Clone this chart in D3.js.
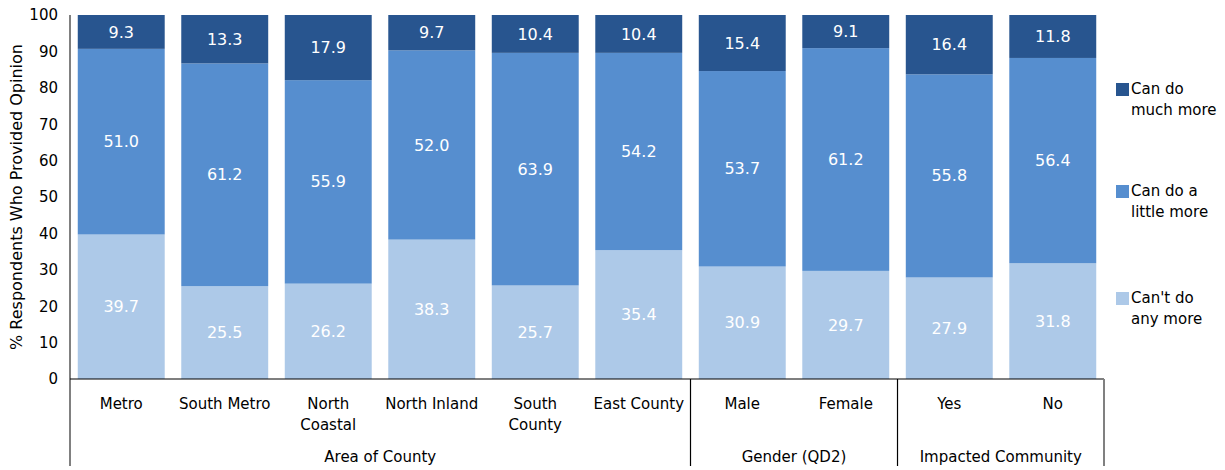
<!DOCTYPE html>
<html>
<head>
<meta charset="utf-8">
<script src="https://cdn.jsdelivr.net/npm/d3@7"></script>
<style>
body { margin: 0; background: #fff; }
svg text { font-family: "DejaVu Sans", sans-serif; }
</style>
</head>
<body>
<div id="chart"></div>
<script>
var categories = [
	['Metro'], ['South Metro'], ['North', 'Coastal'], ['North Inland'], ['South', 'County'],
	['East County'], ['Male'], ['Female'], ['Yes'], ['No']
];
var groups = [
	{ name: 'Area of County', from: 0, to: 5 },
	{ name: 'Gender (QD2)', from: 6, to: 7 },
	{ name: 'Impacted Community', from: 8, to: 9 }
];
var cantDo = [39.7, 25.5, 26.2, 38.3, 25.7, 35.4, 30.9, 29.7, 27.9, 31.8];
var littleMore = [51.0, 61.2, 55.9, 52.0, 63.9, 54.2, 53.7, 61.2, 55.8, 56.4];
var muchMore = [9.3, 13.3, 17.9, 9.7, 10.4, 10.4, 15.4, 9.1, 16.4, 11.8];
var yTicks = [0, 10, 20, 30, 40, 50, 60, 70, 80, 90, 100];

var series = [
	{ name: ['Can\'t do', 'any more'], values: cantDo, color: '#adc9e8' },
	{ name: ['Can do a', 'little more'], values: littleMore, color: '#568ecf' },
	{ name: ['Can do', 'much more'], values: muchMore, color: '#28558f' }
];

var chart = {
	width: 1225, height: 470,
	left: 70, right: 1104, top: 15, bottom: 379
};

var svg = d3.select('#chart').append('svg')
	.attr('width', chart.width)
	.attr('height', chart.height);

var x = d3.scaleBand()
	.domain(d3.range(categories.length))
	.range([chart.left, chart.right])
	.paddingInner(0.16)
	.paddingOuter(0.075);

var y = d3.scaleLinear()
	.domain([0, 100])
	.range([chart.bottom, chart.top]);

// stacked bars
series.forEach(function(s, si) {
	var g = svg.append('g');
	categories.forEach(function(c, i) {
		var base = 0;
		for(var k = 0; k < si; k++) base += series[k].values[i];
		var v = s.values[i];
		var y0 = y(base), y1 = y(Math.min(base + v, 100));
		g.append('rect')
			.attr('x', x(i))
			.attr('width', x.bandwidth())
			.attr('y', y1)
			.attr('height', y0 - y1)
			.attr('fill', s.color);
		g.append('text')
			.attr('x', x(i) + x.bandwidth()/2)
			.attr('y', (y0 + y1)/2)
			.attr('dy', '0.35em')
			.attr('text-anchor', 'middle')
			.attr('fill', '#fff')
			.style('font-size', '16px')
			.text(v.toFixed(1));
	});
});

// y axis
var yAxis = svg.append('g')
	.attr('transform', 'translate(' + chart.left + ',0)')
	.call(d3.axisLeft(y).tickValues(yTicks).tickSize(0).tickPadding(12));
yAxis.select('.domain').remove();
yAxis.selectAll('text')
	.style('font-size', '15px')
	.style('font-family', '"DejaVu Sans", sans-serif')
	.attr('fill', '#000');

svg.append('line')
	.attr('x1', chart.left).attr('x2', chart.left)
	.attr('y1', chart.top).attr('y2', 466)
	.attr('stroke', '#808080').attr('stroke-width', 2);

svg.append('line')
	.attr('x1', chart.left).attr('x2', chart.right)
	.attr('y1', chart.bottom).attr('y2', chart.bottom)
	.attr('stroke', '#000').attr('stroke-width', 1.2);

svg.append('text')
	.attr('transform', 'translate(22,' + ((chart.top + chart.bottom)/2) + ') rotate(-90)')
	.attr('text-anchor', 'middle')
	.style('font-size', '16px')
	.text('% Respondents Who Provided Opinion');

// category labels
categories.forEach(function(c, i) {
	var cx = x(i) + x.bandwidth()/2;
	var t = svg.append('text')
		.attr('x', cx)
		.attr('y', 409)
		.attr('text-anchor', 'middle')
		.style('font-size', '15px');
	c.forEach(function(line, li) {
		t.append('tspan')
			.attr('x', cx)
			.attr('dy', li == 0 ? 0 : 21)
			.text(line);
	});
});

// group labels and separators
var step = x.step();
var edge = function(i) { return x(i) - (x.paddingInner() * step)/2; };
groups.forEach(function(g) {
	var last = g.to == categories.length - 1;
	var x0 = g.from == 0 ? chart.left : edge(g.from);
	var x1 = last ? chart.right : edge(g.to + 1);
	svg.append('text')
		.attr('x', (x0 + x1)/2)
		.attr('y', 462)
		.attr('text-anchor', 'middle')
		.style('font-size', '15px')
		.text(g.name);
	svg.append('line')
		.attr('x1', x1).attr('x2', x1)
		.attr('y1', chart.bottom).attr('y2', 466)
		.attr('stroke', last ? '#808080' : '#000')
		.attr('stroke-width', last ? 2 : 1.2);
});

// legend
var legendY = [94, 196, 303];
var legendSeries = series.slice().reverse();
legendSeries.forEach(function(s, i) {
	var ly = legendY[i];
	svg.append('rect')
		.attr('x', 1116).attr('y', ly - 11)
		.attr('width', 13).attr('height', 13)
		.attr('fill', s.color);
	var t = svg.append('text')
		.attr('x', 1131).attr('y', ly)
		.style('font-size', '15px');
	s.name.forEach(function(line, li) {
		t.append('tspan')
			.attr('x', 1131)
			.attr('dy', li == 0 ? 0 : 21)
			.text(line);
	});
});
</script>
</body>
</html>
